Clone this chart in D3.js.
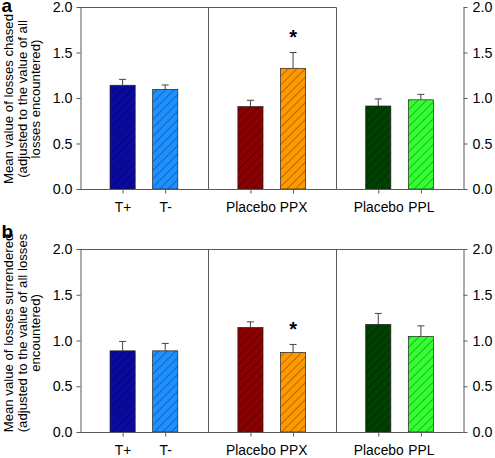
<!DOCTYPE html>
<html>
<head>
<meta charset="utf-8">
<script src="https://cdn.jsdelivr.net/npm/d3@7"></script>
<style>
  html, body { margin: 0; padding: 0; background: #fff; }
  svg { display: block; font-family: "Liberation Sans", Arial, sans-serif; }
</style>
</head>
<body>
<svg id="chart" width="495" height="458"></svg>
<script>
// ---- data ----
const groups = ["Testosterone", "Pramipexole", "Propranolol"];
const conditions = ["T+", "T-", "Placebo", "PPX", "Placebo", "PPL"];
const conditionGroup = [0, 0, 1, 1, 2, 2];
const barColors = ["#0a0aa0", "#1e90ff", "#8b0000", "#ff9900", "#004000", "#33ff33"];
const yTicks = [0, 0.5, 1.0, 1.5, 2.0];

const chasedMean = [1.14, 1.095, 0.905, 1.326, 0.912, 0.98];
const chasedErr  = [0.065, 0.048, 0.07, 0.174, 0.078, 0.06];
const chasedSig  = [false, false, false, true, false, false];

const surrMean = [0.887, 0.887, 1.143, 0.87, 1.176, 1.045];
const surrErr  = [0.103, 0.081, 0.061, 0.087, 0.12, 0.115];
const surrSig  = [false, false, false, true, false, false];

const panels = [
  { letter: "a", mean: chasedMean, err: chasedErr, sig: chasedSig,
    title: ["Mean value of losses chased", "(adjusted to the value of all", "losses encountered)"],
    top: 7, bottom: 189, titleCenter: 99, fullTop: false, letterY: 12 },
  { letter: "b", mean: surrMean, err: surrErr, sig: surrSig,
    title: ["Mean value of losses surrendered", "(adjusted to the value of all losses", "encountered)"],
    top: 249, bottom: 432, titleCenter: 333, fullTop: true, letterY: 238 }
];

// ---- layout ----
const svg = d3.select("#chart");
const left = 80, right = 463.5;
const lineColor = "#5a5a5a";
const FONT = "'Liberation Sans', Arial, sans-serif";

const defs = svg.append("defs");
defs.append("pattern")
  .attr("id", "hatch")
  .attr("patternUnits", "userSpaceOnUse")
  .attr("width", 6).attr("height", 6)
  .attr("patternTransform", "rotate(45)")
  .append("line")
  .attr("x1", 0).attr("y1", 0).attr("x2", 0).attr("y2", 6)
  .attr("stroke", "#000").attr("stroke-width", 0.8).attr("stroke-opacity", 0.75);

const xGroup = d3.scaleBand().domain(d3.range(groups.length)).range([left, right]).padding(0);
const xInner = d3.scaleBand().domain([0, 1]).range([0, xGroup.bandwidth()])
  .paddingInner(0.41).paddingOuter(0.705);
const barX = i => xGroup(conditionGroup[i]) + xInner(i % 2);
const barCenter = i => barX(i) + xInner.bandwidth() / 2;
const xTickScale = d3.scaleOrdinal(d3.range(conditions.length), d3.range(conditions.length).map(barCenter));

panels.forEach(p => {
  const g = svg.append("g");
  const y = d3.scaleLinear().domain([0, 2]).range([p.bottom, p.top]);
  const idx = d3.range(conditions.length);

  // bars
  g.selectAll("rect.fill").data(idx).join("rect")
    .attr("class", "fill")
    .attr("x", i => barX(i))
    .attr("y", i => y(p.mean[i]))
    .attr("width", xInner.bandwidth())
    .attr("height", i => y(0) - y(p.mean[i]))
    .attr("fill", i => barColors[i]);
  g.selectAll("rect.hatch").data(idx).join("rect")
    .attr("class", "hatch")
    .attr("x", i => barX(i))
    .attr("y", i => y(p.mean[i]))
    .attr("width", xInner.bandwidth())
    .attr("height", i => y(0) - y(p.mean[i]))
    .attr("fill", "url(#hatch)")
    .attr("stroke", "#222").attr("stroke-width", 0.7);

  // error bars (upper only)
  g.selectAll("line.err").data(idx).join("line")
    .attr("class", "err")
    .attr("x1", i => barCenter(i)).attr("x2", i => barCenter(i))
    .attr("y1", i => y(p.mean[i])).attr("y2", i => y(p.mean[i] + p.err[i]))
    .attr("stroke", "#444").attr("stroke-width", 1);
  g.selectAll("line.cap").data(idx).join("line")
    .attr("class", "cap")
    .attr("x1", i => barCenter(i) - 3.5).attr("x2", i => barCenter(i) + 3.5)
    .attr("y1", i => y(p.mean[i] + p.err[i])).attr("y2", i => y(p.mean[i] + p.err[i]))
    .attr("stroke", "#444").attr("stroke-width", 1);

  // significance asterisks
  g.selectAll("text.sig").data(idx.filter(i => p.sig[i])).join("text")
    .attr("class", "sig")
    .attr("x", i => barCenter(i))
    .attr("y", i => y(p.mean[i] + p.err[i]) - 8.5)
    .attr("text-anchor", "middle")
    .attr("font-size", 20).attr("font-weight", "bold")
    .text("*");

  // frame lines
  const frame = g.append("g").attr("stroke", lineColor).attr("stroke-width", 1).attr("fill", "none");
  const yT = Math.round(y(2)) + 0.5, yB = Math.round(y(0)) + 0.5;
  const d1 = Math.round(xGroup(1)) + 0.5, d2 = Math.round(xGroup(2)) + 0.5;
  frame.append("line").attr("x1", left).attr("x2", right).attr("y1", yB).attr("y2", yB);
  frame.append("line").attr("x1", left).attr("x2", p.fullTop ? right : d2).attr("y1", yT).attr("y2", yT);
  frame.append("line").attr("x1", d1).attr("x2", d1).attr("y1", yT).attr("y2", yB);
  frame.append("line").attr("x1", d2).attr("x2", d2).attr("y1", yT).attr("y2", yB);

  // y axes
  const fmt = d3.format(".1f");
  const la = g.append("g").attr("transform", `translate(${left + 0.5},0)`)
    .call(d3.axisLeft(y).tickValues(yTicks).tickFormat(fmt).tickSize(4).tickSizeOuter(0).tickPadding(4));
  const ra = g.append("g").attr("transform", `translate(${right},0)`)
    .call(d3.axisRight(y).tickValues(yTicks).tickFormat(fmt).tickSize(4).tickSizeOuter(0).tickPadding(5));
  [la, ra].forEach(a => {
    a.select(".domain").attr("stroke", lineColor);
    a.selectAll(".tick line").attr("stroke", lineColor);
    a.selectAll(".tick text").attr("font-size", 14.3).attr("fill", "#000")
      .attr("font-family", FONT);
  });

  // x axis ticks + labels
  const xa = g.append("g").attr("transform", `translate(0,${yB})`)
    .call(d3.axisBottom(xTickScale).tickFormat(i => conditions[i]).tickSize(4).tickPadding(9));
  xa.select(".domain").remove();
  xa.selectAll(".tick line").attr("stroke", lineColor);
  xa.selectAll(".tick text").attr("font-size", 13.8).attr("fill", "#000")
    .attr("font-family", FONT);

  // y title
  const baselines = [13, 26.5, 39.5];
  p.title.forEach((t, k) => {
    svg.append("text")
      .attr("transform", `translate(${baselines[k]},${p.titleCenter}) rotate(-90)`)
      .attr("text-anchor", "middle")
      .attr("font-size", 13.2)
      .attr("font-family", FONT)
      .attr("fill", "#000")
      .text(t);
  });

  // panel letter
  svg.append("text")
    .attr("x", 1.5).attr("y", p.letterY)
    .attr("font-size", 19).attr("font-weight", "bold")
    .attr("font-family", FONT)
    .text(p.letter);
});
</script>
</body>
</html>
